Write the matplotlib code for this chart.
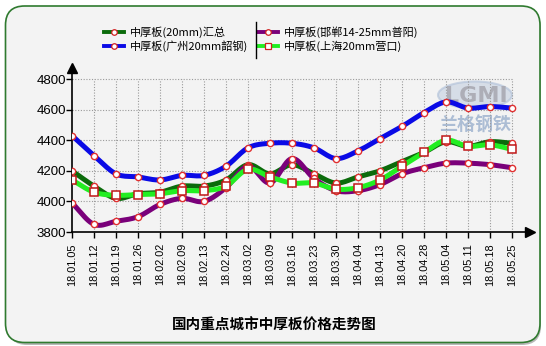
import numpy as np
import matplotlib
matplotlib.use("Agg")
import matplotlib.pyplot as plt
from matplotlib.patches import FancyBboxPatch, Ellipse
from matplotlib.lines import Line2D

plt.rcParams['font.family'] = ['Noto Sans CJK SC', 'DejaVu Sans']

dates = ["18.01.05", "18.01.12", "18.01.19", "18.01.26", "18.02.02", "18.02.09",
         "18.02.13", "18.02.24", "18.03.02", "18.03.09", "18.03.16", "18.03.23",
         "18.03.30", "18.04.04", "18.04.13", "18.04.20", "18.04.28", "18.05.04",
         "18.05.11", "18.05.18", "18.05.25"]

summary_20mm = [4200, 4100, 4020, 4050, 4060, 4100, 4100, 4140, 4240, 4180, 4240,
                4180, 4120, 4160, 4200, 4260, 4320, 4390, 4360, 4390, 4380]
guangzhou = [4430, 4300, 4180, 4160, 4140, 4170, 4170, 4230, 4350, 4380, 4380,
             4350, 4280, 4330, 4410, 4490, 4580, 4650, 4610, 4620, 4610]
handan = [3990, 3850, 3870, 3900, 3980, 4020, 4000, 4090, 4230, 4120, 4280,
          4150, 4070, 4070, 4110, 4180, 4220, 4250, 4250, 4240, 4220]
shanghai = [4140, 4060, 4040, 4045, 4050, 4070, 4070, 4100, 4210, 4160, 4120,
            4120, 4080, 4090, 4140, 4230, 4320, 4400, 4360, 4370, 4340]

series = [
    ("中厚板(20mm)汇总", summary_20mm, "#0b6b0b", "o"),
    ("中厚板(广州20mm韶钢)", guangzhou, "#0a0ae6", "o"),
    ("中厚板(邯郸14-25mm普阳)", handan, "#7a007a", "o"),
    ("中厚板(上海20mm营口)", shanghai, "#22ee22", "s"),
]

yticks = [3800, 4000, 4200, 4400, 4600, 4800]


def smooth(y, n=12):
    """Cubic Hermite curve through the points (Catmull-Rom tangents)."""
    y = np.asarray(y, float)
    x = np.arange(len(y), dtype=float)
    m = np.gradient(y, x)
    xs, ys = [], []
    for i in range(len(y) - 1):
        t = np.linspace(0, 1, n, endpoint=False)
        h00 = 2 * t**3 - 3 * t**2 + 1
        h10 = t**3 - 2 * t**2 + t
        h01 = -2 * t**3 + 3 * t**2
        h11 = t**3 - t**2
        xs.append(x[i] + t)
        ys.append(h00 * y[i] + h10 * m[i] + h01 * y[i + 1] + h11 * m[i + 1])
    xs.append([x[-1]])
    ys.append([y[-1]])
    return np.concatenate(xs), np.concatenate(ys)


W, H = 546, 346
fig = plt.figure(figsize=(W / 100, H / 100), dpi=100)
fig.patch.set_facecolor("white")


def fx(px):
    return px / W


def fy(py):
    return 1 - py / H


# rounded frame with a soft shadow
shadow = FancyBboxPatch((fx(8), fy(345)), fx(533), fy(9) - fy(345),
                        boxstyle="round,pad=0,rounding_size=0.035",
                        transform=fig.transFigure, facecolor="#b8b8b8",
                        edgecolor="none", zorder=-3, mutation_aspect=W / H)
fig.patches.append(shadow)
frame = FancyBboxPatch((fx(5.5), fy(342.5)), fx(534.5), fy(6) - fy(342.5),
                       boxstyle="round,pad=0,rounding_size=0.035",
                       transform=fig.transFigure, facecolor="#f3f3f3",
                       edgecolor="#2f7a2f", linewidth=1.2, zorder=-2,
                       mutation_aspect=W / H)
fig.patches.append(frame)

# watermark (behind the plot area)
logo = Ellipse((fx(475), fy(95)), fx(74), 27 / H, transform=fig.transFigure,
               facecolor="#c3cfe0", edgecolor="#aebfd8", alpha=0.6,
               linewidth=1.5, zorder=-1)
fig.patches.append(logo)
fig.text(fx(476), fy(95.5), "LGMI", fontsize=16,
         color="#a9a9b2", alpha=0.9, ha="center", va="center",
         family=["DejaVu Sans"], fontweight="bold", zorder=-1)
fig.text(fx(475), fy(125), "兰格钢铁", fontsize=13, color="#8ea6c8",
         alpha=0.7, ha="center", va="center", fontweight="bold", zorder=-1)

# plot area: x index 0 at 72px, 22px per step; 3800 at 232px, 0.153 px per unit
left_px, right_px = 72, 530
bottom_px, top_px = 232, 68
x_hi = 20 + (right_px - 512) / 22
y_hi = 3800 + (bottom_px - top_px) / 0.153
ax = fig.add_axes([fx(left_px), fy(bottom_px), fx(right_px - left_px),
                   (bottom_px - top_px) / H])
ax.set_zorder(2)
ax.set_facecolor("none")
ax.set_xlim(0, x_hi)
ax.set_ylim(3800, y_hi)
for s in ("top", "right"):
    ax.spines[s].set_visible(False)
for s in ("left", "bottom"):
    ax.spines[s].set_linewidth(1.2)
    ax.spines[s].set_color("black")

idx = np.arange(len(dates))
ax.hlines(yticks[1:], 0, idx[-1], colors="#9a9a9a", linestyles=(0, (1, 1.5)),
          linewidth=0.8, zorder=1)
ax.vlines(idx[1:], 3800, 4800, colors="#9a9a9a", linestyles=(0, (1, 1.5)),
          linewidth=0.8, zorder=1)

for label, vals, color, mk in series:
    xs, ys = smooth(vals)
    ax.plot(xs, ys, color=color, linewidth=3.6, solid_capstyle="round",
            zorder=3)
    if mk == "s":
        ax.plot(idx, vals, linestyle="none", marker="s", markersize=6,
                markerfacecolor="white", markeredgecolor="#c01818",
                markeredgewidth=1.1, zorder=4)
    else:
        ax.plot(idx, vals, linestyle="none", marker="o", markersize=4.5,
                markerfacecolor="white", markeredgecolor="#e03030",
                markeredgewidth=1.0, zorder=4)

ax.set_xticks(idx)
ax.set_xticklabels(dates, rotation=90, fontsize=7.8,
                   family=["Liberation Sans", "DejaVu Sans"])
ax.set_yticks(yticks)
ax.set_yticklabels([str(v) for v in yticks], fontsize=9.5,
                   family=["Liberation Sans", "DejaVu Sans"])
ax.tick_params(axis="x", length=4, width=1, pad=4)
ax.tick_params(axis="y", length=4, width=1, pad=0.5)

# axis arrows
ax.plot([0], [y_hi], marker="^", color="black", markersize=7,
        clip_on=False, zorder=5)
ax.plot([x_hi], [3800], marker=">", color="black", markersize=7,
        clip_on=False, zorder=5)

# legend drawn as two columns with a divider
leg_rows = [32, 46]
leg_cols = [(104, 130), (258, 284)]
for k, (label, vals, color, mk) in enumerate(series):
    col = 0 if k in (0, 1) else 1
    row = 0 if k in (0, 2) else 1
    hx, tx = leg_cols[col]
    yy = fy(leg_rows[row])
    fig.add_artist(Line2D([fx(hx), fx(hx + 20)], [yy, yy], color=color,
                          linewidth=2.8, transform=fig.transFigure))
    fig.add_artist(Line2D([fx(hx + 10)], [yy], marker=mk,
                          markersize=4 if mk == "o" else 4.5,
                          markerfacecolor="white", markeredgecolor="#d02020",
                          markeredgewidth=0.9, transform=fig.transFigure))
    fig.text(fx(tx), yy, label, fontsize=8, ha="left", va="center",
             color="black")
fig.add_artist(Line2D([fx(256), fx(256)], [fy(22), fy(58)], color="black",
                      linewidth=1.0, transform=fig.transFigure))

fig.text(fx(274), fy(325), "国内重点城市中厚板价格走势图", fontsize=10.5,
         fontweight="bold", ha="center", va="center", color="black")

fig.savefig("out.png", dpi=100, facecolor=fig.get_facecolor())
